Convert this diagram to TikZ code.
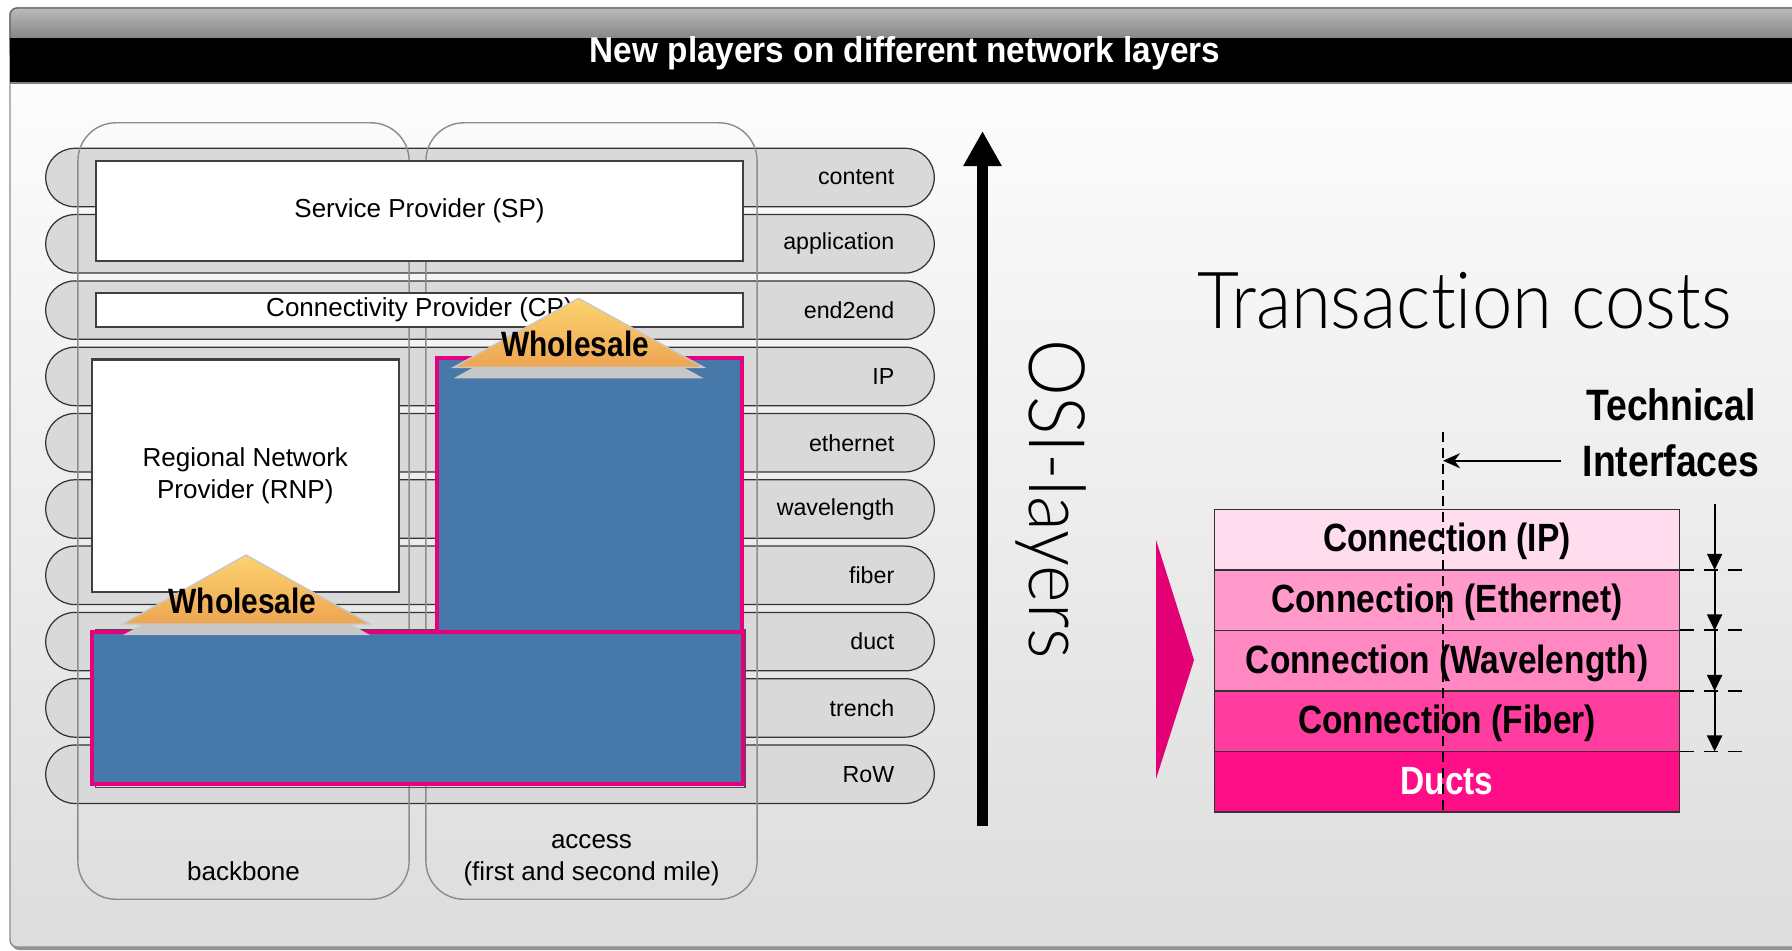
\documentclass[tikz,border=0pt]{standalone}
\usepackage{fontspec}
\setmainfont{Liberation Sans}
\newfontfamily\titlefont[FakeStretch=0.93]{Liberation Sans}
\newfontfamily\thinfont[FakeStretch=0.92, UprightFont={* Light}, Ligatures=NoCommon]{Lato}
\newfontfamily\condfont[FakeStretch=0.85]{Liberation Sans}
\usetikzlibrary{positioning,arrows.meta}

\definecolor{layergray}{HTML}{D9D9D9}
\definecolor{wsblue}{HTML}{4679AA}
\definecolor{wspink}{HTML}{E6007E}
\definecolor{tmagenta}{HTML}{E20074}
\definecolor{triyellow}{HTML}{FDD36F}
\definecolor{triorange}{HTML}{EDA553}
\definecolor{connip}{HTML}{FFDCEE}
\definecolor{conneth}{HTML}{FF9ACB}
\definecolor{connwave}{HTML}{FF88C3}
\definecolor{connfib}{HTML}{FF3D9E}
\definecolor{connduct}{HTML}{FF0F87}

\tikzset{
	layer/.style={draw=black!80, line width=0.35pt, fill=layergray, rounded corners=0.29cm, minimum width=8.88cm, minimum height=0.584cm, text width=8.08cm, inner xsep=0.4cm, inner ysep=0pt, align=right, font=\fontsize{6.6}{8}\selectfont},
	colbox/.style={draw=black!45, line width=0.4pt, rounded corners=0.38cm, minimum width=3.31cm, minimum height=7.76cm},
	collabel/.style={font=\fontsize{7.4}{9.1}\selectfont, align=center, inner sep=0pt},
	provbox/.style={draw=black!75, line width=0.6pt, fill=white, inner sep=0pt, font=\fontsize{7.4}{9.1}\selectfont, align=center},
	wsback/.style={draw=black!70, line width=0.4pt, inner sep=0pt},
	wsbox/.style={draw=wspink, line width=1.2pt, fill=wsblue, inner sep=0pt},
	wstri/.style={top color=triyellow, bottom color=triorange, draw=black!22, line width=0.4pt},
	wsshadow/.style={fill=black!22},
	wstext/.style={font=\condfont\bfseries\fontsize{10}{12}\selectfont, inner sep=0pt, anchor=base},
	conn/.style={draw=black!80, line width=0.35pt, minimum width=4.65cm, minimum height=0.605cm, inner sep=0pt, outer sep=0pt, text height=0.91em, text depth=0.21em, font=\condfont\bfseries\fontsize{11.2}{13}\selectfont},
	bigtext/.style={font=\thinfont\fontsize{22.4}{26}\selectfont, inner sep=0pt},
	techtext/.style={font=\condfont\bfseries\fontsize{12.5}{15.9}\selectfont, align=center, inner sep=0pt},
	osiarrow/.style={line width=3.3pt, -{Triangle[length=0.35cm, width=0.36cm]}},
	ifarrow/.style={line width=0.55pt, -{Triangle[length=0.16cm, width=0.15cm]}},
	techarrow/.style={line width=0.55pt, -{Stealth[length=0.17cm, width=0.15cm]}},
	ifdash/.style={line width=0.55pt, dash pattern=on 0.1cm off 0.06cm},
	stubdash/.style={line width=0.55pt, dash pattern=on 0.14cm off 0.1cm}
}

\begin{document}
\begin{tikzpicture}[x=0.01cm, y=-0.01cm]
	\useasboundingbox (0,0) rectangle (1792,950);
	\clip (0,0) rectangle (1792,950);

	% frame and title bar
	\fill[black!42, rounded corners=0.07cm] (12,11) rectangle (1900,950);
	\shade[top color=white, bottom color=black!13.5, draw=black!45, rounded corners=0.07cm] (10,8) rectangle (1900,947);
	\shade[top color=black!27, bottom color=black!62, draw=black!60, rounded corners=0.07cm] (10,8) rectangle (1900,60);
	\fill[black] (10,38) rectangle (1900,83);
	\draw[black!50, line width=0.6pt] (10,83) -- (1900,83);
	\node[text=white, font=\titlefont\bfseries\fontsize{10.2}{12}\selectfont, inner sep=0pt, anchor=base] (title) at (905,62) {New players on different network layers};

	% network layers
	\node[layer] (content) at (490,177.5) {content};
	\node[layer] (application) at (490,243.8) {application};
	\node[layer] (endtoend) at (490,310.1) {end2end};
	\node[layer] (ip) at (490,376.4) {IP};
	\node[layer] (ethernet) at (490,442.7) {ethernet};
	\node[layer] (wavelength) at (490,509.0) {wavelength};
	\node[layer] (fiber) at (490,575.3) {fiber};
	\node[layer] (duct) at (490,641.6) {duct};
	\node[layer] (trench) at (490,707.9) {trench};
	\node[layer] (row) at (490,774.2) {RoW};

	% backbone and access
	\node[colbox] (backbone) at (243.5,511) {};
	\node[colbox] (access) at (591.5,511) {};
	\node[collabel, anchor=base] (backbonelbl) at (243.5,880) {backbone};
	\node[collabel] (accesslbl) at (591.5,860) {access\\(first and second mile)};

	% players
	\node[provbox, minimum width=6.47cm, minimum height=1.0cm] (sp) at (419.5,210.7) {Service Provider (SP)};
	\node[provbox, minimum width=6.47cm, minimum height=0.334cm] (cp) at (419.5,310) {Connectivity Provider (CP)};
	\node[provbox, minimum width=3.07cm, minimum height=2.32cm] (rnp) at (245.3,475.5) {Regional Network\\Provider (RNP)};

	\node[wsback, minimum width=3.08cm, minimum height=2.32cm] (accessback) at (589.6,475.8) {};
	\node[wsback, minimum width=6.49cm, minimum height=1.58cm] (ductback) at (420.4,708.3) {};
	\node[wsbox, minimum width=3.05cm, minimum height=2.734cm] (accessws) at (589.5,495) {};
	\node[wsbox, minimum width=6.507cm, minimum height=1.523cm] (ductws) at (417.7,707.9) {};

	% wholesale roofs
	\fill[wsshadow] (453.6,378.3) -- (578.6,309.3) -- (703.6,378.3) -- cycle;
	\path[wstri] (453.6,367.3) -- (578.6,298.3) -- (703.6,367.3) -- cycle;
	\node[wstext] (wsaccess) at (575,356.7) {Wholesale};
	\fill[wsshadow] (123,635) -- (246,566) -- (370,635) -- cycle;
	\path[wstri] (123,624) -- (246,555) -- (370,624) -- cycle;
	\node[wstext] (wsduct) at (242.5,613.3) {Wholesale};

	% OSI arrow
	\coordinate (osibot) at (982.5,826);
	\coordinate (ositop) at (982.5,131);
	\draw[osiarrow] (osibot) -- (ositop);
	\node[bigtext, font=\thinfont\fontsize{22.2}{26}\selectfont, rotate=-90] (osilabel) at (1051,499) {OSI-layers};

	% transaction costs
	\node[bigtext, anchor=base] (tcost) at (1465,328) {Transaction costs};
	\fill[tmagenta] (1156,540) -- (1194,660) -- (1156,779) -- cycle;

	\node[conn, fill=connip] (cip) at (1447,539.6) {Connection (IP)};
	\node[conn, fill=conneth, below=0pt of cip] (ceth) {Connection (Ethernet)};
	\node[conn, fill=connwave, below=0pt of ceth] (cwave) {Connection (Wavelength)};
	\node[conn, fill=connfib, below=0pt of cwave] (cfib) {Connection (Fiber)};
	\node[conn, fill=connduct, text=white, below=0pt of cfib] (cduct) {Ducts};

	% technical interfaces
	\node[techtext] (techif) at (1671,433) {Technical\\Interfaces};
	\coordinate (iftop) at (1443,432);
	\coordinate (iftip) at (1443,460.7);
	\coordinate (ifstart) at (1560.6,460.7);
	\coordinate (ifc0) at (1714.6,504);
	\coordinate (stubend) at (1746,504);
	\draw[ifdash] (iftop) -- (iftop |- cduct.south);
	\draw[techarrow] (ifstart) -- (iftip);

	\draw[stubdash] (cip.south east) -- (cip.south -| stubend);
	\draw[stubdash] (ceth.south east) -- (ceth.south -| stubend);
	\draw[stubdash] (cwave.south east) -- (cwave.south -| stubend);
	\draw[stubdash] (cfib.south east) -- (cfib.south -| stubend);
	\draw[ifarrow] (ifc0) -- (cip.south -| ifc0);
	\draw[ifarrow] (cip.south -| ifc0) -- (ceth.south -| ifc0);
	\draw[ifarrow] (ceth.south -| ifc0) -- (cwave.south -| ifc0);
	\draw[ifarrow] (cwave.south -| ifc0) -- (cfib.south -| ifc0);
\end{tikzpicture}
\end{document}
